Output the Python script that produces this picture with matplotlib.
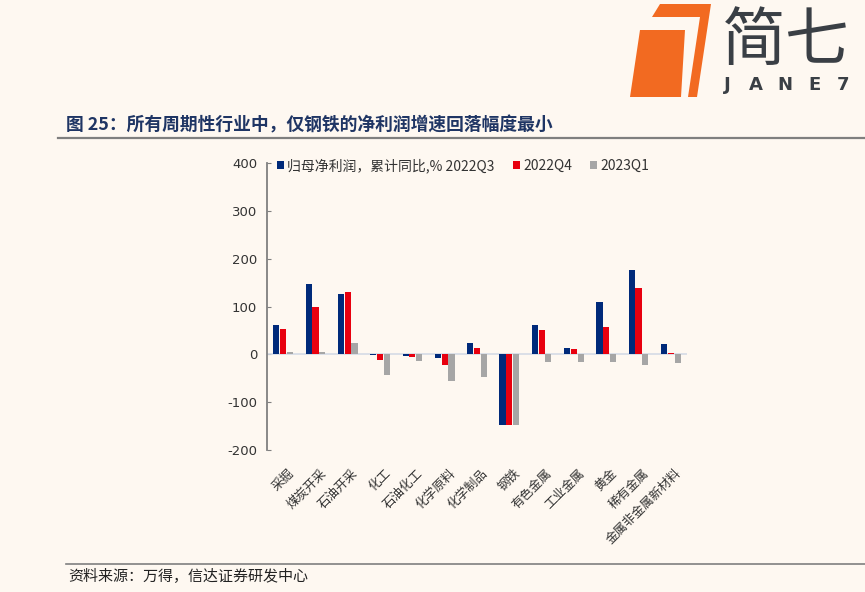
import matplotlib
matplotlib.use("Agg")
import matplotlib.pyplot as plt
import numpy as np
from matplotlib.patches import Polygon

plt.rcParams['font.family'] = ['Noto Sans CJK SC', 'DejaVu Sans']

categories = ["采掘", "煤炭开采", "石油开采", "化工", "石油化工", "化学原料", "化学制品",
              "钢铁", "有色金属", "工业金属", "黄金", "稀有金属", "金属非金属新材料"]
q3_2022 = [62, 146, 126, -2, -3, -8, 24, -147, 62, 13, 110, 177, 21]
q4_2022 = [52, 99, 131, -12, -5, -23, 14, -147, 50, 12, 58, 138, 3]
q1_2023 = [4, 4, 23, -44, -14, -55, -47, -147, -17, -15, -15, -23, -18]
series_names = ["归母净利润，累计同比,% 2022Q3", "2022Q4", "2023Q1"]
colors = ["#002a7a", "#e8000f", "#a6a6a6"]
yticks = [-200, -100, 0, 100, 200, 300, 400]

bg = "#fef8f1"
fig = plt.figure(figsize=(8.65, 5.92), dpi=100, facecolor=bg)

# decoration layer in pixel coords
deco = fig.add_axes([0, 0, 1, 1], zorder=0)
deco.set_xlim(0, 865)
deco.set_ylim(592, 0)
deco.axis("off")
deco.set_facecolor(bg)

# logo
deco.add_patch(Polygon([(652, 17), (660, 4), (711, 4), (697, 97), (688, 97), (700, 17)],
                       closed=True, color="#f26a21", lw=0))
deco.add_patch(Polygon([(640, 30), (685, 30), (681, 97), (630, 97)],
                       closed=True, color="#f26a21", lw=0))
deco.text(786, 42, "简七", fontsize=46, color="#3a3f45", ha="center", va="center",
          fontweight="light")
for i, ch in enumerate("JANE7"):
    deco.text(727 + i * 29, 85, ch, fontsize=13, color="#3a3f45", ha="center", va="center",
              family="DejaVu Sans", fontweight="bold")

# title
deco.text(66, 125, "图 25：所有周期性行业中，仅钢铁的净利润增速回落幅度最小", fontsize=12.8,
          fontweight="bold", color="#1f3564", ha="left", va="center")
deco.plot([58, 865], [138, 138], color="#7f7f7f", lw=1.6)
deco.plot([66, 865], [564, 564], color="#7f7f7f", lw=1.2)
deco.text(68, 577, "资料来源：万得，信达证券研发中心", fontsize=10.8, style="italic",
          color="#222222", ha="left", va="center")

# chart
ax = fig.add_axes([267 / 865, 1 - 450 / 592, 420 / 865, (450 - 163) / 592], zorder=1)
ax.set_facecolor("none")
x = np.arange(len(categories))
w = 0.19
off = [-w - 0.02, 0, w + 0.02]
for vals, c, name, o in zip([q3_2022, q4_2022, q1_2023], colors, series_names, off):
    ax.bar(x + o, vals, width=w, color=c, label=name, zorder=3)

ax.set_xlim(-0.5, len(categories) - 0.5)
ax.set_ylim(-200, 400)
ax.set_yticks(yticks)
ax.set_yticklabels([str(v) for v in yticks], fontsize=9.5, color="#333333", family="DejaVu Sans")
ax.axhline(0, color="#d5dbe5", lw=1.2, zorder=2)
for s in ["top", "right", "bottom"]:
    ax.spines[s].set_visible(False)
ax.spines["left"].set_color("#808080")
ax.spines["left"].set_linewidth(1.3)
ax.tick_params(axis="y", direction="in", length=3, color="#808080", pad=7)
ax.tick_params(axis="x", length=0, pad=12)
ax.set_xticks(x + 0.12)
ax.set_xticklabels(categories, rotation=45, ha="right", rotation_mode="anchor",
                   fontsize=9, color="#333333")

leg = ax.legend(loc="upper left", bbox_to_anchor=(0.01, 1.035), ncol=3, frameon=False,
                fontsize=10, handlelength=0.5, handleheight=0.5, handletextpad=0.25,
                columnspacing=1.3, borderaxespad=0)
for t in leg.get_texts():
    t.set_color("#333333")

fig.savefig("out.png", dpi=100, facecolor=bg)
